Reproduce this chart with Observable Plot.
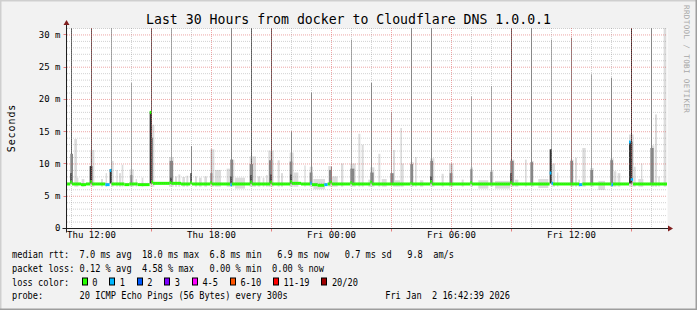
<!DOCTYPE html>
<html><head><meta charset="utf-8">
<script src="https://cdn.jsdelivr.net/npm/d3@7"></script>
<script src="https://cdn.jsdelivr.net/npm/@observablehq/plot@0.6"></script>
<style>
html,body{margin:0;padding:0;background:#f2f2f2;}
#chart{position:relative;width:697px;height:310px;background:#f2f2f2;overflow:hidden;}
#chart svg{position:absolute;left:0;top:0;}
</style></head><body><div id="chart"></div>
<script>
// ---------- data ----------
const title = "Last 30 Hours from docker to Cloudflare DNS 1.0.0.1";
const yLabel = "Seconds";
const watermark = "RRDTOOL / TOBI OETIKER";
const rangeStart = "Thu 10:48", rangeEnd = "Fri 16:48";
const yMax = 31;
const yTickValues = [0, 5, 10, 15, 20, 25, 30];
const yTickLabels = ["0", "5 m", "10 m", "15 m", "20 m", "25 m", "30 m"];
const xTickTimes = ["Thu 12:00", "Thu 18:00", "Fri 00:00", "Fri 06:00", "Fri 12:00"];
const xTickLabels = ["Thu 12:00", "Thu 18:00", "Fri 00:00", "Fri 06:00", "Fri 12:00"];
const lossLabels = ["0", "1", "2", "3", "4-5", "6-10", "11-19", "20/20"];
const lossColors = ["#26ff00", "#00b8ff", "#0059ff", "#7e00ff", "#ff00ff", "#ff5500", "#ff0000", "#a10000"];
const shadeColors = ["#ffffff", "#dcdcdc", "#a8a8a8", "#868686", "#5a5a5a", "#343434"];
const statLines = [
  "median rtt:  7.0 ms avg  18.0 ms max  6.8 ms min   6.9 ms now   0.7 ms sd   9.8  am/s",
  "packet loss: 0.12 % avg  4.58 % max   0.00 % min  0.00 % now",
  "loss color:",
  "probe:       20 ICMP Echo Pings (56 Bytes) every 300s"
];
const stampText = "Fri Jan  2 16:42:39 2026";

// smoke: [from, to, low ms, high ms, shade level]
const smokeLight = [
  ["Thu 11:10","Thu 11:18",6.4,13.8,1],["Thu 11:17","Thu 11:22",6.4,7.8,1],["Thu 11:32","Thu 11:40",6.4,7.6,1],
  ["Thu 11:58","Thu 12:10",6.4,12.1,1],["Thu 12:30","Thu 12:36",6.4,7.6,1],["Thu 12:44","Thu 12:48",6.4,8.5,1],
  ["Thu 13:02","Thu 13:08",6.4,10.4,1],["Thu 13:16","Thu 13:20",6.4,9.0,1],["Thu 13:24","Thu 13:30",6.4,8.5,1],
  ["Thu 13:32","Thu 13:37",6.4,9.8,1],["Thu 13:56","Thu 14:08",6.4,9.1,1],["Thu 14:14","Thu 14:18",6.4,7.6,1],
  ["Thu 14:32","Thu 14:37",6.4,7.8,1],["Thu 14:58","Thu 15:10",6.4,16.0,1],["Thu 15:54","Thu 16:08",6.4,11.0,1],
  ["Thu 16:12","Thu 16:18",6.4,8.0,1],["Thu 16:22","Thu 16:28",6.4,8.3,1],["Thu 16:34","Thu 16:42",6.4,7.9,1],
  ["Thu 16:46","Thu 16:52",6.4,8.1,1],["Thu 17:12","Thu 17:18",6.4,8.0,1],["Thu 17:24","Thu 17:32",6.4,7.8,1],
  ["Thu 17:40","Thu 17:48",6.4,8.0,1],["Thu 17:58","Thu 18:10",6.4,12.2,1],["Thu 18:12","Thu 18:30",6.4,9.0,1],
  ["Thu 18:47","Thu 18:57",6.4,9.2,1],["Thu 18:58","Thu 19:10",6.4,10.6,1],["Thu 19:12","Thu 19:42",6.1,7.8,1],
  ["Thu 19:56","Thu 20:15",6.4,11.1,1],["Thu 20:20","Thu 20:28",6.4,8.0,1],["Thu 20:35","Thu 20:40",6.4,7.8,1],
  ["Thu 20:45","Thu 20:50",6.4,8.2,1],["Thu 20:52","Thu 21:08",6.4,12.0,1],["Thu 21:20","Thu 21:26",6.4,10.5,1],
  ["Thu 21:30","Thu 21:36",6.4,8.5,1],["Thu 21:56","Thu 22:08",6.4,11.7,1],["Thu 22:08","Thu 22:22",6.4,8.6,1],
  ["Thu 22:40","Thu 22:44",6.4,9.7,1],["Thu 22:56","Thu 23:06",6.4,9.5,1],["Thu 23:07","Thu 23:42",6.0,7.6,1],
  ["Thu 23:52","Fri 00:02",6.4,9.6,1],["Fri 00:02","Fri 00:20",6.4,8.0,1],["Fri 00:30","Fri 00:37",6.4,10.0,1],
  ["Fri 00:58","Fri 01:14",6.4,10.0,1],["Fri 01:22","Fri 01:28",6.4,14.6,1],["Fri 01:32","Fri 01:38",6.4,12.9,1],
  ["Fri 01:52","Fri 02:02",6.4,7.5,1],["Fri 01:58","Fri 02:10",6.4,9.4,1],["Fri 02:22","Fri 02:28",6.4,11.5,1],
  ["Fri 02:32","Fri 02:47",6.4,7.6,1],["Fri 03:06","Fri 03:12",6.4,12.1,1],["Fri 03:12","Fri 03:27",6.4,7.4,1],
  ["Fri 03:28","Fri 03:33",6.4,15.5,1],["Fri 03:32","Fri 03:38",6.4,10.0,1],["Fri 03:58","Fri 04:08",6.4,10.2,1],
  ["Fri 04:12","Fri 04:17",6.4,11.0,1],["Fri 04:27","Fri 04:37",6.4,7.4,1],["Fri 04:58","Fri 05:10",6.4,10.8,1],
  ["Fri 05:32","Fri 05:38",6.4,8.4,1],["Fri 05:54","Fri 06:07",6.4,10.0,1],["Fri 06:32","Fri 06:38",6.4,7.5,1],
  ["Fri 06:58","Fri 07:06",6.4,9.4,1],["Fri 07:22","Fri 07:52",6.1,7.4,1],["Fri 07:58","Fri 08:07",6.4,9.0,1],
  ["Fri 08:12","Fri 08:57",6.1,7.3,1],["Fri 08:58","Fri 09:10",6.4,10.6,1],["Fri 09:12","Fri 09:22",6.4,7.5,1],
  ["Fri 09:42","Fri 09:47",6.4,10.6,1],["Fri 10:00","Fri 10:08",6.4,10.4,1],["Fri 10:22","Fri 10:52",6.2,7.6,1],
  ["Fri 11:02","Fri 11:12",6.4,10.0,1],["Fri 11:18","Fri 11:22",6.4,8.6,1],["Fri 11:58","Fri 12:08",6.4,10.6,1],
  ["Fri 12:12","Fri 12:18",6.4,10.9,1],["Fri 12:22","Fri 12:27",6.4,7.5,1],["Fri 12:34","Fri 12:44",6.4,12.4,1],
  ["Fri 12:58","Fri 13:08",6.4,9.3,1],["Fri 13:22","Fri 13:42",5.9,7.3,1],["Fri 13:58","Fri 14:08",6.4,10.8,1],
  ["Fri 14:08","Fri 14:16",6.4,8.8,1],["Fri 14:20","Fri 14:28",6.4,8.5,1],["Fri 14:54","Fri 15:08",6.4,14.5,1],
  ["Fri 15:08","Fri 15:14",6.4,9.5,1],["Fri 15:22","Fri 15:37",6.4,7.6,1],["Fri 15:30","Fri 15:34",6.4,10.0,1],
  ["Fri 16:00","Fri 16:10",6.4,12.8,1],["Fri 16:12","Fri 16:18",6.4,17.6,1],["Fri 16:22","Fri 16:26",6.4,8.0,1],
  ["Fri 16:38","Fri 16:46",6.4,31,1]
];
const smokeCore = [
  ["Thu 10:58","Thu 11:06",6.9,11.5,3],["Thu 10:58","Thu 11:02",6.9,8.5,5],["Thu 11:56","Thu 12:04",6.9,9.6,5],
  ["Thu 12:56","Thu 13:02",6.9,9.1,5],["Thu 13:58","Thu 14:04",6.9,8.2,3],["Thu 15:00","Thu 15:06",6.9,14.0,3],
  ["Thu 14:56","Thu 15:02",6.9,18.0,5],["Thu 15:56","Thu 16:06",6.9,10.4,3],["Thu 15:58","Thu 16:02",6.9,7.8,5],
  ["Thu 16:58","Thu 17:02",6.9,8.5,5],["Thu 17:58","Thu 18:04",6.9,8.5,3],["Thu 18:58","Thu 19:06",6.9,10.6,3],
  ["Thu 18:58","Thu 19:02",6.9,8.0,5],["Thu 19:56","Thu 20:06",6.9,9.9,3],["Thu 19:58","Thu 20:02",6.9,8.2,5],
  ["Thu 20:54","Thu 21:04",6.9,10.5,3],["Thu 20:58","Thu 21:02",6.9,8.3,5],["Thu 21:56","Thu 22:04",6.9,10.3,3],
  ["Thu 21:58","Thu 22:02",6.9,8.3,5],["Thu 22:56","Thu 23:04",6.9,8.6,3],["Thu 23:54","Fri 00:02",6.9,9.0,3],
  ["Fri 00:58","Fri 01:10",6.9,9.2,3],["Fri 01:58","Fri 02:08",6.9,8.6,3],["Fri 02:58","Fri 03:08",6.9,8.5,3],
  ["Fri 03:58","Fri 04:06",6.9,9.9,3],["Fri 04:58","Fri 05:06",6.9,10.4,3],["Fri 04:58","Fri 05:02",6.9,8.0,5],
  ["Fri 05:56","Fri 06:04",6.9,8.5,3],["Fri 06:58","Fri 07:04",6.9,9.1,3],["Fri 07:58","Fri 08:04",6.9,8.7,3],
  ["Fri 08:58","Fri 09:08",6.9,10.4,3],["Fri 08:58","Fri 09:02",6.9,8.5,5],["Fri 09:58","Fri 10:06",6.9,10.2,3],
  ["Fri 10:56","Fri 11:02",6.9,12.2,5],["Fri 11:58","Fri 12:06",6.9,10.4,3],["Fri 12:58","Fri 13:06",6.9,9.0,3],
  ["Fri 13:58","Fri 14:06",6.9,10.5,3],["Fri 14:54","Fri 15:04",6.9,13.4,5],["Fri 15:58","Fri 16:08",6.9,12.4,3]
];
// hourly outlier pings: [time, low ms, max ms (31 = beyond top), shade level]
const spikes = [
  ["Thu 11:00",7.2,31,4],["Thu 12:00",7.2,31,4],["Thu 13:00",7.2,31,2],["Thu 14:00",7.2,22.5,2],
  ["Thu 15:00",7.2,31,4],["Thu 16:00",7.2,31,2],["Thu 17:00",7.2,12.7,3],["Thu 18:00",7.2,12.2,2],
  ["Thu 19:00",7.2,31,3],["Thu 20:00",7.2,31,4],["Thu 21:00",7.2,31,4],["Thu 22:00",7.2,15.0,3],
  ["Thu 23:00",7.2,21.0,3],["Fri 00:00",7.2,9.5,3],["Fri 01:00",7.2,29.2,2],["Fri 02:00",7.2,22.5,3],
  ["Fri 03:00",7.2,18.0,2],["Fri 04:00",7.2,31,3],["Fri 05:00",7.2,31,3],["Fri 06:00",7.2,10.0,2],
  ["Fri 07:00",7.2,20.4,2],["Fri 08:00",7.2,22.0,2],["Fri 09:00",7.2,31,4],["Fri 10:00",7.2,31,3],
  ["Fri 11:00",7.2,29.2,2],["Fri 12:00",7.2,29.5,3],["Fri 13:00",7.2,23.8,2],["Fri 14:00",7.2,23.3,3],
  ["Fri 15:00",7.2,31,5],["Fri 16:00",7.2,31,3]
];
// median rtt: [from, to, ms, lost pings index]
const median = [
  ["Thu 10:48","Thu 10:58",6.9,0],["Thu 10:58","Thu 11:03",7.2,0],["Thu 11:03","Thu 11:30",6.9,0],
  ["Thu 11:30","Thu 11:45",6.8,0],["Thu 11:45","Thu 11:58",6.9,0],["Thu 11:58","Thu 12:03",7.3,0],
  ["Thu 12:03","Thu 12:43",6.9,0],["Thu 12:43","Thu 12:56",6.8,1],["Thu 12:56","Thu 13:01",9.0,1],
  ["Thu 13:01","Thu 13:40",6.9,0],["Thu 13:40","Thu 13:55",6.8,0],["Thu 13:55","Thu 14:20",6.9,0],
  ["Thu 14:20","Thu 14:56",6.8,0],["Thu 14:56","Thu 15:01",18.0,0],["Thu 15:01","Thu 15:06",7.2,0],
  ["Thu 15:06","Thu 15:56",7.0,0],["Thu 15:56","Thu 16:01",7.1,0],["Thu 16:01","Thu 16:30",7.0,0],
  ["Thu 16:30","Thu 16:58",6.9,0],["Thu 16:58","Thu 17:03",7.1,0],["Thu 17:03","Thu 17:58",6.9,0],
  ["Thu 17:58","Thu 18:03",7.1,0],["Thu 18:03","Thu 18:58",6.9,0],["Thu 18:58","Thu 19:03",6.8,1],
  ["Thu 19:03","Thu 19:58",6.9,0],["Thu 19:58","Thu 20:03",7.2,0],["Thu 20:03","Thu 20:58",6.9,0],
  ["Thu 20:58","Thu 21:03",7.2,0],["Thu 21:03","Thu 21:58",6.9,0],["Thu 21:58","Thu 22:03",7.3,0],
  ["Thu 22:03","Thu 22:30",7.0,0],["Thu 22:30","Thu 22:58",6.9,0],["Thu 22:58","Thu 23:03",7.0,1],
  ["Thu 23:03","Thu 23:20",6.8,0],["Thu 23:20","Thu 23:40",6.7,0],["Thu 23:40","Thu 23:50",6.8,1],
  ["Thu 23:50","Thu 23:58",6.9,0],["Thu 23:58","Fri 00:03",7.2,0],["Fri 00:03","Fri 00:58",6.9,0],
  ["Fri 00:58","Fri 01:03",7.1,0],["Fri 01:03","Fri 01:58",6.9,0],["Fri 01:58","Fri 02:03",7.2,0],
  ["Fri 02:03","Fri 03:58",6.9,0],["Fri 03:58","Fri 04:03",7.0,0],["Fri 04:03","Fri 04:58",6.9,0],
  ["Fri 04:58","Fri 05:03",7.3,0],["Fri 05:03","Fri 06:58",6.9,0],["Fri 06:58","Fri 07:03",7.1,0],
  ["Fri 07:03","Fri 08:58",6.9,0],["Fri 08:58","Fri 09:03",7.1,0],["Fri 09:03","Fri 10:56",6.9,0],
  ["Fri 10:56","Fri 11:01",8.6,1],["Fri 11:01","Fri 11:06",7.0,1],["Fri 11:06","Fri 12:24",6.9,0],
  ["Fri 12:24","Fri 12:34",6.8,1],["Fri 12:34","Fri 14:01",6.9,0],["Fri 14:01","Fri 14:06",6.8,1],
  ["Fri 14:06","Fri 14:54",6.9,0],["Fri 14:54","Fri 14:59",13.4,1],["Fri 14:59","Fri 15:06",7.6,1],
  ["Fri 15:06","Fri 16:48",6.9,0]
];

// ---------- helpers ----------
const T = s => { const [d, hm] = s.split(" "); const [h, m] = hm.split(":").map(Number);
  return new Date(Date.UTC(2026, 0, d === "Thu" ? 1 : 2, h, m)); };
const W = 697, H = 310, mL = 67, mR = 30, mT = 28, mB = 82;
const start = T(rangeStart), end = T(rangeEnd);
const hours = d3.utcHour.range(d3.utcHour.ceil(start), end);
const majorHours = hours.filter(d => d.getUTCHours() % 3 === 0);
const minorHours = hours.filter(d => d.getUTCHours() % 3 !== 0);
const minorY = d3.range(1, yMax + 1).filter(v => v % 5 !== 0);
const majorY = yTickValues.filter(v => v > 0);
const axisFont = {fontFamily: "DejaVu Sans Mono", fontSize: 9, letterSpacing: "0.55px"};

const chart = Plot.plot({
  width: W, height: H, marginLeft: mL, marginRight: mR, marginTop: mT, marginBottom: mB,
  style: {background: "transparent", fontFamily: "DejaVu Sans Mono", fontSize: "9px", color: "#000", overflow: "visible"},
  x: {type: "utc", domain: [start, end], axis: null},
  y: {domain: [0, yMax], axis: null},
  marks: [
    Plot.frame({fill: "#ffffff", stroke: "none"}),
    Plot.rect(smokeLight, {x1: d => T(d[0]), x2: d => T(d[1]), y1: d => d[2], y2: d => d[3], fill: d => shadeColors[d[4]]}),
    Plot.ruleX(spikes, {x: d => T(d[0]), y1: d => d[1], y2: d => d[2], stroke: d => shadeColors[d[3]], strokeWidth: 1}),
    Plot.rect(smokeCore, {x1: d => T(d[0]), x2: d => T(d[1]), y1: d => d[2], y2: d => d[3], fill: d => shadeColors[d[4]]}),
    Plot.ruleY(median, {x1: d => T(d[0]), x2: d => T(d[1]), y: d => d[2], stroke: d => lossColors[d[3]], strokeWidth: 3}),
    // grid (drawn over the data, translucent & dotted like rrdtool)
    Plot.ruleY(minorY, {stroke: "#8f8f8f", strokeOpacity: 0.4, strokeDasharray: "1,1"}),
    Plot.ruleX(minorHours, {stroke: "#8f8f8f", strokeOpacity: 0.4, strokeDasharray: "1,1"}),
    Plot.ruleY(majorY, {stroke: "#de4f4f", strokeOpacity: 0.5, strokeDasharray: "1,1"}),
    Plot.ruleX(majorHours, {stroke: "#de4f4f", strokeOpacity: 0.5, strokeDasharray: "1,1"}),
    // tick labels
    Plot.text(yTickValues, {frameAnchor: "left", y: d => d, text: (d, i) => yTickLabels[i], textAnchor: "end", dx: -7, ...axisFont}),
    Plot.text(xTickTimes, {frameAnchor: "bottom", x: d => T(d), text: (d, i) => xTickLabels[i], dy: 9, ...axisFont})
  ]
});
const root = document.getElementById("chart");
root.appendChild(chart);

// ---------- decorations: axes, arrows, titles, legend ----------
const xs = chart.scale("x"), ysc = chart.scale("y");
const X = v => xs.apply(v), Y = v => ysc.apply(v);
const ov = d3.select(root).append("svg").attr("width", W).attr("height", H)
  .style("font-family", "DejaVu Sans Mono");
// border shading
ov.append("path").attr("d", `M0,${H}V0H${W}`).attr("fill", "none").attr("stroke", "#cfcfcf").attr("stroke-width", 3);
ov.append("path").attr("d", `M0,${H}H${W}V0`).attr("fill", "none").attr("stroke", "#9e9e9e").attr("stroke-width", 3);
const ax0 = Math.round(Y(0)) + 0.5, ay0 = Math.round(X(start)) - 0.5;
// small ticks
majorHours.forEach(t => ov.append("line").attr("x1", Math.round(X(t)) + 0.5).attr("x2", Math.round(X(t)) + 0.5)
  .attr("y1", ax0).attr("y2", ax0 + 3).attr("stroke", "#de4f4f").attr("stroke-opacity", 0.7));
majorY.forEach(v => ov.append("line").attr("x1", ay0 - 3).attr("x2", ay0).attr("y1", Math.round(Y(v)) + 0.5)
  .attr("y2", Math.round(Y(v)) + 0.5).attr("stroke", "#de4f4f").attr("stroke-opacity", 0.7));
// axis lines
ov.append("line").attr("x1", ay0 - 4).attr("x2", W - mR + 3).attr("y1", ax0).attr("y2", ax0).attr("stroke", "#1f1f1f");
ov.append("line").attr("x1", ay0).attr("x2", ay0).attr("y1", ax0 + 4).attr("y2", mT - 4).attr("stroke", "#1f1f1f");
// arrows
const arrowColor = "#801f1f";
ov.append("path").attr("d", `M${ay0 - 3},${mT - 3}L${ay0 + 3},${mT - 3}L${ay0},${mT - 8}Z`).attr("fill", arrowColor);
ov.append("path").attr("d", `M${W - mR + 1},${ax0 - 3}L${W - mR + 1},${ax0 + 3}L${W - mR + 6},${ax0}Z`).attr("fill", arrowColor);
// title
ov.append("text").attr("x", W / 2).attr("y", 23.5).attr("text-anchor", "middle").attr("font-size", 13.2).text(title);
// y label
ov.append("text").attr("transform", `translate(15,${(mT + Y(0)) / 2}) rotate(-90)`).attr("text-anchor", "middle")
  .attr("font-size", 10).attr("letter-spacing", "0.9px").text(yLabel);
// watermark
ov.append("text").attr("transform", "translate(684,5) rotate(90)").attr("font-size", 7.6).attr("letter-spacing", "0.35px")
  .attr("fill", "#a8a8a8").text(watermark);
// legend (monospaced, 5.2 px per character)
const adv = 5.2, lx = 12, baselines = [258.3, 272, 285.6, 299.2];
const legendFont = 10;
const legendText = (x, y, s, anchor) => ov.append("text").attr("x", x).attr("y", y).attr("font-size", legendFont)
  .attr("text-anchor", anchor || "start").attr("textLength", s.length * adv).attr("lengthAdjust", "spacingAndGlyphs")
  .style("white-space", "pre").text(s);
statLines.forEach((s, i) => legendText(lx, baselines[i], s));
let bx = lx + 13.4 * adv;
lossLabels.forEach((lab, i) => {
  ov.append("rect").attr("x", Math.round(bx) + 0.5).attr("y", baselines[2] - 7.6).attr("width", 5).attr("height", 7)
    .attr("fill", lossColors[i]).attr("stroke", "#000").attr("stroke-width", 1);
  legendText(bx + 10.5, baselines[2], lab);
  bx += (lab.length + 4.3) * adv;
});
legendText(510, baselines[3], stampText, "end");
</script></body></html>
